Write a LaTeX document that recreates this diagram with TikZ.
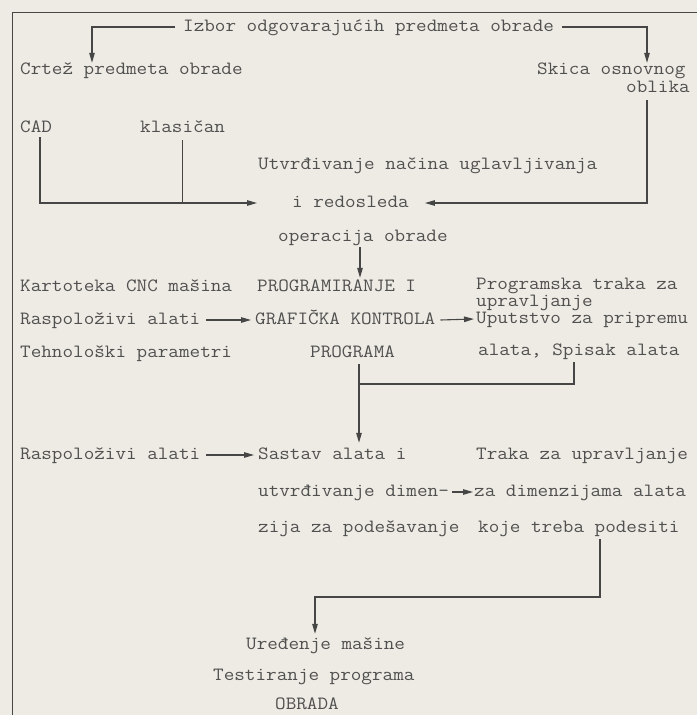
\documentclass[tikz,border=0pt]{standalone}
\usepackage{fontspec}
\setmonofont[FakeStretch=1.1]{Latin Modern Mono}
\usetikzlibrary{arrows.meta}
\definecolor{paper}{RGB}{237,235,227}
\definecolor{ink}{RGB}{80,80,80}
\definecolor{lineink}{RGB}{70,70,70}
\begin{document}
\begin{tikzpicture}[x=1pt,y=-1pt,
  txt/.style={font=\ttfamily\fontsize{18.7}{21}\selectfont, text=ink, inner sep=0pt, anchor=west, text height=11pt, text depth=3pt},
  ln/.style={draw=lineink, line width=1.1pt},
  arr/.style={ln, -{Triangle[length=10pt,width=5.5pt]}}]
\fill[paper] (0,0) rectangle (697,715);
\useasboundingbox (0,0) rectangle (697,715);
\draw[draw=lineink, line width=0.8pt] (12,715) -- (12,12) -- (697,12);

% top
\node[txt] (izbor) at (183,27) {Izbor odgovarajućih predmeta obrade};
\node[txt] (crtez) at (20,70) {Crtež predmeta obrade};
\node[txt] (skica) at (537,70) {Skica osnovnog};
\node[txt] (oblika) at (626,88) {oblika};
\coordinate (tl) at (92,27);
\coordinate (tr) at (647,27);
\draw[arr] ([xshift=-8pt]izbor.west) -- (tl) -- (tl |- crtez.north);
\draw[arr] ([xshift=8pt]izbor.east) -- (tr) -- (tr |- skica.north);

% CAD / klasican
\node[txt] (cad) at (20,128) {CAD};
\node[txt] (klas) at (140,128) {klasičan};
\node[txt] (utvr) at (258,165) {Utvrđivanje načina uglavljivanja};
\node[txt] (redo) at (292,203) {i redosleda};
\node[txt] (oper) at (278,237) {operacija obrade};
\coordinate (cadl) at (40,137);
\draw[arr] (cadl) |- ([xshift=-35pt]redo.west);
\draw[ln] ([yshift=-5pt]klas.south) -- (klas.south |- redo.west);
\coordinate (rv) at (647,100);
\draw[arr] (rv) |- ([xshift=16pt]redo.east);

% programming block
\node[txt] (kart) at (20,287) {Kartoteka CNC mašina};
\node[txt] (prog1) at (257,287) {PROGRAMIRANJE I};
\node[txt] (ptraka) at (476,285) {Programska traka za};
\node[txt] (upr) at (476,302) {upravljanje};
\node[txt] (rasp1) at (20,320) {Raspoloživi alati};
\node[txt] (graf) at (255,320) {GRAFIČKA KONTROLA};
\node[txt] (uput) at (476,319) {Uputstvo za pripremu};
\node[txt] (tehn) at (20,353) {Tehnološki parametri};
\node[txt] (progr) at (310,353) {PROGRAMA};
\node[txt] (alata) at (478,351) {alata, Spisak alata};
\coordinate (a1) at (360,247);
\draw[arr] (a1) -- ([yshift=2pt]a1 |- prog1.north);
\draw[arr] ([xshift=6pt]rasp1.east) -- ([xshift=-4pt]graf.west);
\draw[arr] ([xshift=5pt]graf.east) -- ([xshift=-2pt]uput.west);

\coordinate (b1) at (359,384);
\coordinate (b2) at (574,384);
\draw[ln] ([yshift=-4pt]b1 |- progr.south) -- (b1) -- (b2) -- ([yshift=-4pt]b2 |- alata.south);

% tool set block
\node[txt] (rasp2) at (20,455) {Raspoloživi alati};
\node[txt] (sastav) at (258,455) {Sastav alata i};
\node[txt] (traka) at (476,455) {Traka za upravljanje};
\node[txt] (utvr2) at (258,492) {utvrđivanje dimen-};
\node[txt] (dimz) at (474,492) {za dimenzijama alata};
\node[txt] (zija) at (258,528) {zija za podešavanje};
\node[txt] (koje) at (478,528) {koje treba podesiti};
\draw[arr] (b1) -- ([yshift=5pt]b1 |- sastav.north);
\draw[arr] ([xshift=6pt]rasp2.east) -- ([xshift=-4pt]sastav.west);
\draw[arr] ([xshift=3pt]utvr2.east) -- ([xshift=-1pt]dimz.west);

% final block
\node[txt] (ured) at (246,645) {Uređenje mašine};
\node[txt] (test) at (213,676) {Testiranje programa};
\node[txt] (obr) at (275,705) {OBRADA};
\coordinate (c1) at (600,597);
\coordinate (c2) at (315,597);
\draw[arr] ([yshift=-4pt]c1 |- koje.south) -- (c1) -- (c2) -- ([yshift=4pt]c2 |- ured.north);
\end{tikzpicture}
\end{document}
